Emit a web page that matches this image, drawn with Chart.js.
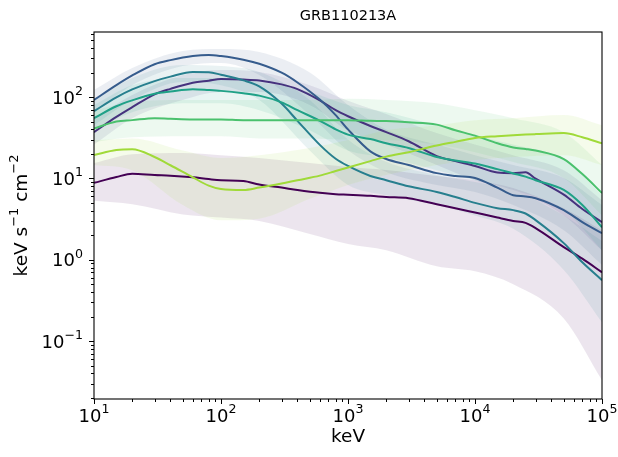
<!DOCTYPE html>
<html>
<head>
<meta charset="utf-8">
<script src="https://cdn.jsdelivr.net/npm/chart.js@4/dist/chart.umd.min.js"></script>
<style>
  html, body { margin: 0; padding: 0; background: #fff; }
  #c { display: block; }
</style>
</head>
<body>
<canvas id="c" width="618" height="457"></canvas>
<script>
// Photon energies (keV) at which the model curves are sampled
const energies = [10, 15, 20, 30, 40, 60, 80, 100, 150, 200, 300, 400, 600, 800,
  1000, 1500, 2000, 3000, 5000, 7000, 10000, 15000, 20000, 25000, 30000, 50000, 70000, 100000];

// nuFnu curves (keV s^-1 cm^-2), one per time bin
const bin1 = [8.8, 10.4, 11.4, 11.0, 10.8, 10.3, 9.8, 9.5, 9.3, 8.4, 7.7, 7.2, 6.65, 6.4,
  6.3, 6.1, 5.9, 5.7, 4.8, 4.3, 3.8, 3.3, 3.0, 2.84, 2.45, 1.43, 1.03, 0.70];
const bin2 = [37, 57, 75, 108, 126, 150, 159, 166, 164, 160, 143, 125, 91, 69,
  58, 44, 37, 28.6, 18.8, 16.3, 14.2, 11.8, 11.6, 11.9, 9.9, 6.3, 4.2, 2.9];
const bin3 = [92, 140, 184, 253, 284, 319, 329, 319, 288, 256, 199, 151, 93, 60,
  40, 21.5, 17.3, 14.6, 11.6, 10.7, 10.1, 7.7, 6.2, 6.0, 5.7, 4.07, 2.9, 2.12];
const bin4 = [67, 99, 124, 157, 178, 203, 202, 188, 160, 135, 83, 51, 25.8, 17.4,
  14.2, 10.7, 9.5, 8.0, 6.8, 5.9, 5.0, 4.3, 4.07, 3.7, 3.07, 1.6, 0.93, 0.56];
const bin5 = [55, 77, 91, 110, 117, 125, 122, 119, 111, 104, 86, 69, 51, 40,
  34.5, 30.4, 27, 23.6, 18.3, 16.6, 15.2, 13, 11.5, 10.5, 9.5, 7.2, 4.7, 2.5];
const bin6 = [41, 50, 52, 55, 54, 53, 53, 53, 52, 52, 52, 52, 52, 52,
  52, 51, 50.6, 49, 45.8, 39, 33.5, 27, 24, 23, 22, 17.3, 11.3, 6.6];
const bin7 = [19.4, 22.3, 22.8, 18.3, 14.5, 10.3, 8.15, 7.4, 7.2, 7.7, 8.65, 9.5, 10.8, 12.3,
  13.6, 16.3, 18.5, 21, 25.3, 28.1, 31.3, 33, 34, 34.6, 35, 36, 32, 27];

// Energies (keV) at which the credible-interval envelopes are sampled
const bandEnergies = [10, 20, 50, 100, 200, 500, 1000, 2000, 5000, 10000, 20000, 50000, 100000];

// Lower / upper envelope of each curve
const bin1Low  = [5.3, 4.8, 3.6, 3.3, 3.0, 2.07, 1.56, 1.31, 0.83, 0.72, 0.5, 0.19, 0.033];
const bin1High = [15.4, 19.8, 20.5, 19.3, 17.8, 15.4, 13.8, 12.7, 10.7, 9.5, 7.6, 4.3, 2.3];
const bin2Low  = [26, 55, 92, 115, 115, 80, 39, 26, 14.6, 9.5, 7.2, 3.5, 1.3];
const bin2High = [55, 106, 186, 215, 203, 140, 90, 62, 36, 26, 19.3, 12.6, 5.4];
const bin3Low  = [65, 140, 240, 262, 186, 60, 22, 12, 8.3, 6.8, 4.7, 2.3, 0.86];
const bin3High = [122, 227, 368, 390, 357, 200, 80, 40, 26, 19.3, 14.6, 10.1, 4.7];
const bin4Low  = [45, 92, 153, 140, 92, 22, 8.3, 6.2, 4.7, 3.5, 2.4, 0.75, 0.17];
const bin4High = [92, 171, 247, 240, 203, 92, 30, 16, 11, 9, 7.2, 3.5, 1.7];
const bin5Low  = [39, 65, 84, 84, 69, 39, 22, 18, 12.6, 9.5, 7.2, 4.1, 1.3];
const bin5High = [80, 140, 171, 171, 153, 115, 80, 65, 45, 34, 26, 17, 6.2];
const bin6Low  = [28, 32, 33, 33, 31, 31, 30, 29.6, 26, 21, 15.9, 10.1, 3.5];
const bin6High = [69, 87, 92, 92, 92, 92, 95, 92, 84, 69, 55, 37, 14.6];
const bin7Low  = [14.6, 12.6, 4.7, 3.05, 3.2, 5.6, 8.3, 11, 14.6, 16.8, 18.3, 19.3, 14.6];
const bin7High = [29.5, 31, 22, 17.8, 19.3, 23.6, 29.6, 39, 45, 52, 55, 60, 45];

// Axis ticks: decade values and their exponents
const xTickValues = [10, 100, 1000, 10000, 100000];
const xTickExponents = ['1', '2', '3', '4', '5'];
const yTickValues = [0.1, 1, 10, 100];
const yTickExponents = ['\u22121', '0', '1', '2'];

const colors = ['#440154', '#46327e', '#365c8d', '#277f8e', '#1fa187', '#4ac16d', '#a0da39'];
const curves = [bin1, bin2, bin3, bin4, bin5, bin6, bin7];
const lows = [bin1Low, bin2Low, bin3Low, bin4Low, bin5Low, bin6Low, bin7Low];
const highs = [bin1High, bin2High, bin3High, bin4High, bin5High, bin6High, bin7High];

const FONT = 'DejaVu Sans';
const TICK_SIZE = 18;
const LABEL_SIZE = 18.5;

function points(xs, ys) {
  return xs.map((x, i) => ({ x: x, y: ys[i] }));
}
function rgba(hex, a) {
  const n = parseInt(hex.slice(1), 16);
  return `rgba(${(n >> 16) & 255}, ${(n >> 8) & 255}, ${n & 255}, ${a})`;
}

const datasets = [];
// shaded envelopes: drawn first, underneath every curve
lows.forEach((low, i) => {
  const lowIndex = datasets.length;
  datasets.push({
    data: points(bandEnergies, low),
    borderWidth: 0, borderColor: 'rgba(0,0,0,0)', pointRadius: 0,
    fill: false, cubicInterpolationMode: 'monotone', order: 40 - i
  });
  datasets.push({
    data: points(bandEnergies, highs[i]),
    borderWidth: 0, borderColor: 'rgba(0,0,0,0)', pointRadius: 0,
    fill: { target: lowIndex }, backgroundColor: rgba(colors[i], 0.1),
    cubicInterpolationMode: 'monotone', order: 40 - i
  });
});
// median curves, later bins on top
curves.forEach((vals, i) => {
  datasets.push({
    data: points(energies, vals),
    borderColor: colors[i], borderWidth: 2, pointRadius: 0,
    fill: false, cubicInterpolationMode: 'monotone', order: 20 - i
  });
});

// text made of runs: [text, isSuperscript]
function runsWidth(ctx, runs, size) {
  let w = 0;
  runs.forEach(([t, sup]) => {
    ctx.font = `${sup ? size * 0.7 : size}px "${FONT}"`;
    w += ctx.measureText(t).width;
  });
  return w;
}
function drawRuns(ctx, runs, x, y, size) {
  ctx.textBaseline = 'alphabetic';
  ctx.textAlign = 'left';
  let cx = x;
  runs.forEach(([t, sup]) => {
    const s = sup ? size * 0.7 : size;
    ctx.font = `${s}px "${FONT}"`;
    ctx.fillText(t, cx, sup ? y - size * 0.47 : y);
    cx += ctx.measureText(t).width;
  });
}

// outward tick marks, decade labels, y-axis title and the axes frame
const axesFrame = {
  id: 'axesFrame',
  afterDraw(chart) {
    const { ctx, chartArea: a, scales: { x, y } } = chart;
    ctx.save();
    ctx.strokeStyle = '#000';
    ctx.fillStyle = '#000';
    ctx.lineWidth = 1;
    const seg = (x0, y0, x1, y1) => { ctx.beginPath(); ctx.moveTo(x0, y0); ctx.lineTo(x1, y1); ctx.stroke(); };
    for (let e = Math.floor(Math.log10(x.min)); e <= Math.ceil(Math.log10(x.max)); e++) {
      for (let k = 1; k < 10; k++) {
        const v = k * Math.pow(10, e);
        if (v < x.min * 0.999 || v > x.max * 1.001) continue;
        const px = Math.round(x.getPixelForValue(v)) + 0.5;
        seg(px, a.bottom, px, a.bottom + (k === 1 ? 5 : 3));
      }
    }
    for (let e = Math.floor(Math.log10(y.min)); e <= Math.ceil(Math.log10(y.max)); e++) {
      for (let k = 1; k < 10; k++) {
        const v = k * Math.pow(10, e);
        if (v < y.min * 0.999 || v > y.max * 1.001) continue;
        const py = Math.round(y.getPixelForValue(v)) + 0.5;
        seg(a.left - (k === 1 ? 5 : 3), py, a.left, py);
      }
    }
    // decade labels
    xTickValues.forEach((v, i) => {
      const runs = [['10', false], [xTickExponents[i], true]];
      const w = runsWidth(ctx, runs, TICK_SIZE);
      drawRuns(ctx, runs, x.getPixelForValue(v) - w / 2, a.bottom + 22.5, TICK_SIZE);
    });
    yTickValues.forEach((v, i) => {
      const runs = [['10', false], [yTickExponents[i], true]];
      const w = runsWidth(ctx, runs, TICK_SIZE);
      drawRuns(ctx, runs, a.left - 11 - w, y.getPixelForValue(v) + 6.5, TICK_SIZE);
    });
    // y-axis title
    const title = [['keV s', false], ['\u22121', true], [' cm', false], ['\u22122', true]];
    const tw = runsWidth(ctx, title, LABEL_SIZE);
    ctx.translate(27, (a.top + a.bottom) / 2);
    ctx.rotate(-Math.PI / 2);
    drawRuns(ctx, title, -tw / 2, 0, LABEL_SIZE);
    ctx.setTransform(1, 0, 0, 1, 0, 0);
    // frame
    ctx.lineWidth = 1.1;
    ctx.strokeRect(a.left, a.top, a.right - a.left, a.bottom - a.top);
    ctx.restore();
  }
};

new Chart(document.getElementById('c'), {
  type: 'line',
  data: { datasets },
  plugins: [axesFrame],
  options: {
    responsive: false,
    devicePixelRatio: 1,
    animation: false,
    layout: { padding: { left: 0, right: 16, top: 0, bottom: 0 } },
    plugins: {
      legend: { display: false },
      tooltip: { enabled: false },
      title: {
        display: true, text: 'GRB110213A', fullSize: false, color: '#000',
        font: { family: FONT, size: 14.5, weight: 'normal' },
        padding: { top: 7.5, bottom: 7.1 }
      }
    },
    scales: {
      x: {
        type: 'logarithmic', position: 'bottom', min: 10, max: 100000,
        afterBuildTicks: s => { s.ticks = xTickValues.map(v => ({ value: v })); },
        afterFit: s => { s.height = 58; s.paddingLeft = 0; s.paddingRight = 0; },
        grid: { display: false, drawTicks: false },
        border: { display: false },
        ticks: { display: false },
        title: {
          display: true, text: 'keV', color: '#000',
          font: { family: FONT, size: LABEL_SIZE }, padding: { top: 0, bottom: 9 }
        }
      },
      y: {
        type: 'logarithmic', position: 'left', min: 0.0194, max: 630,
        afterBuildTicks: s => { s.ticks = yTickValues.map(v => ({ value: v })); },
        afterFit: s => { s.width = 94; s.paddingTop = 0; s.paddingBottom = 0; },
        grid: { display: false, drawTicks: false },
        border: { display: false },
        ticks: { display: false }
      }
    }
  }
});
</script>
</body>
</html>
